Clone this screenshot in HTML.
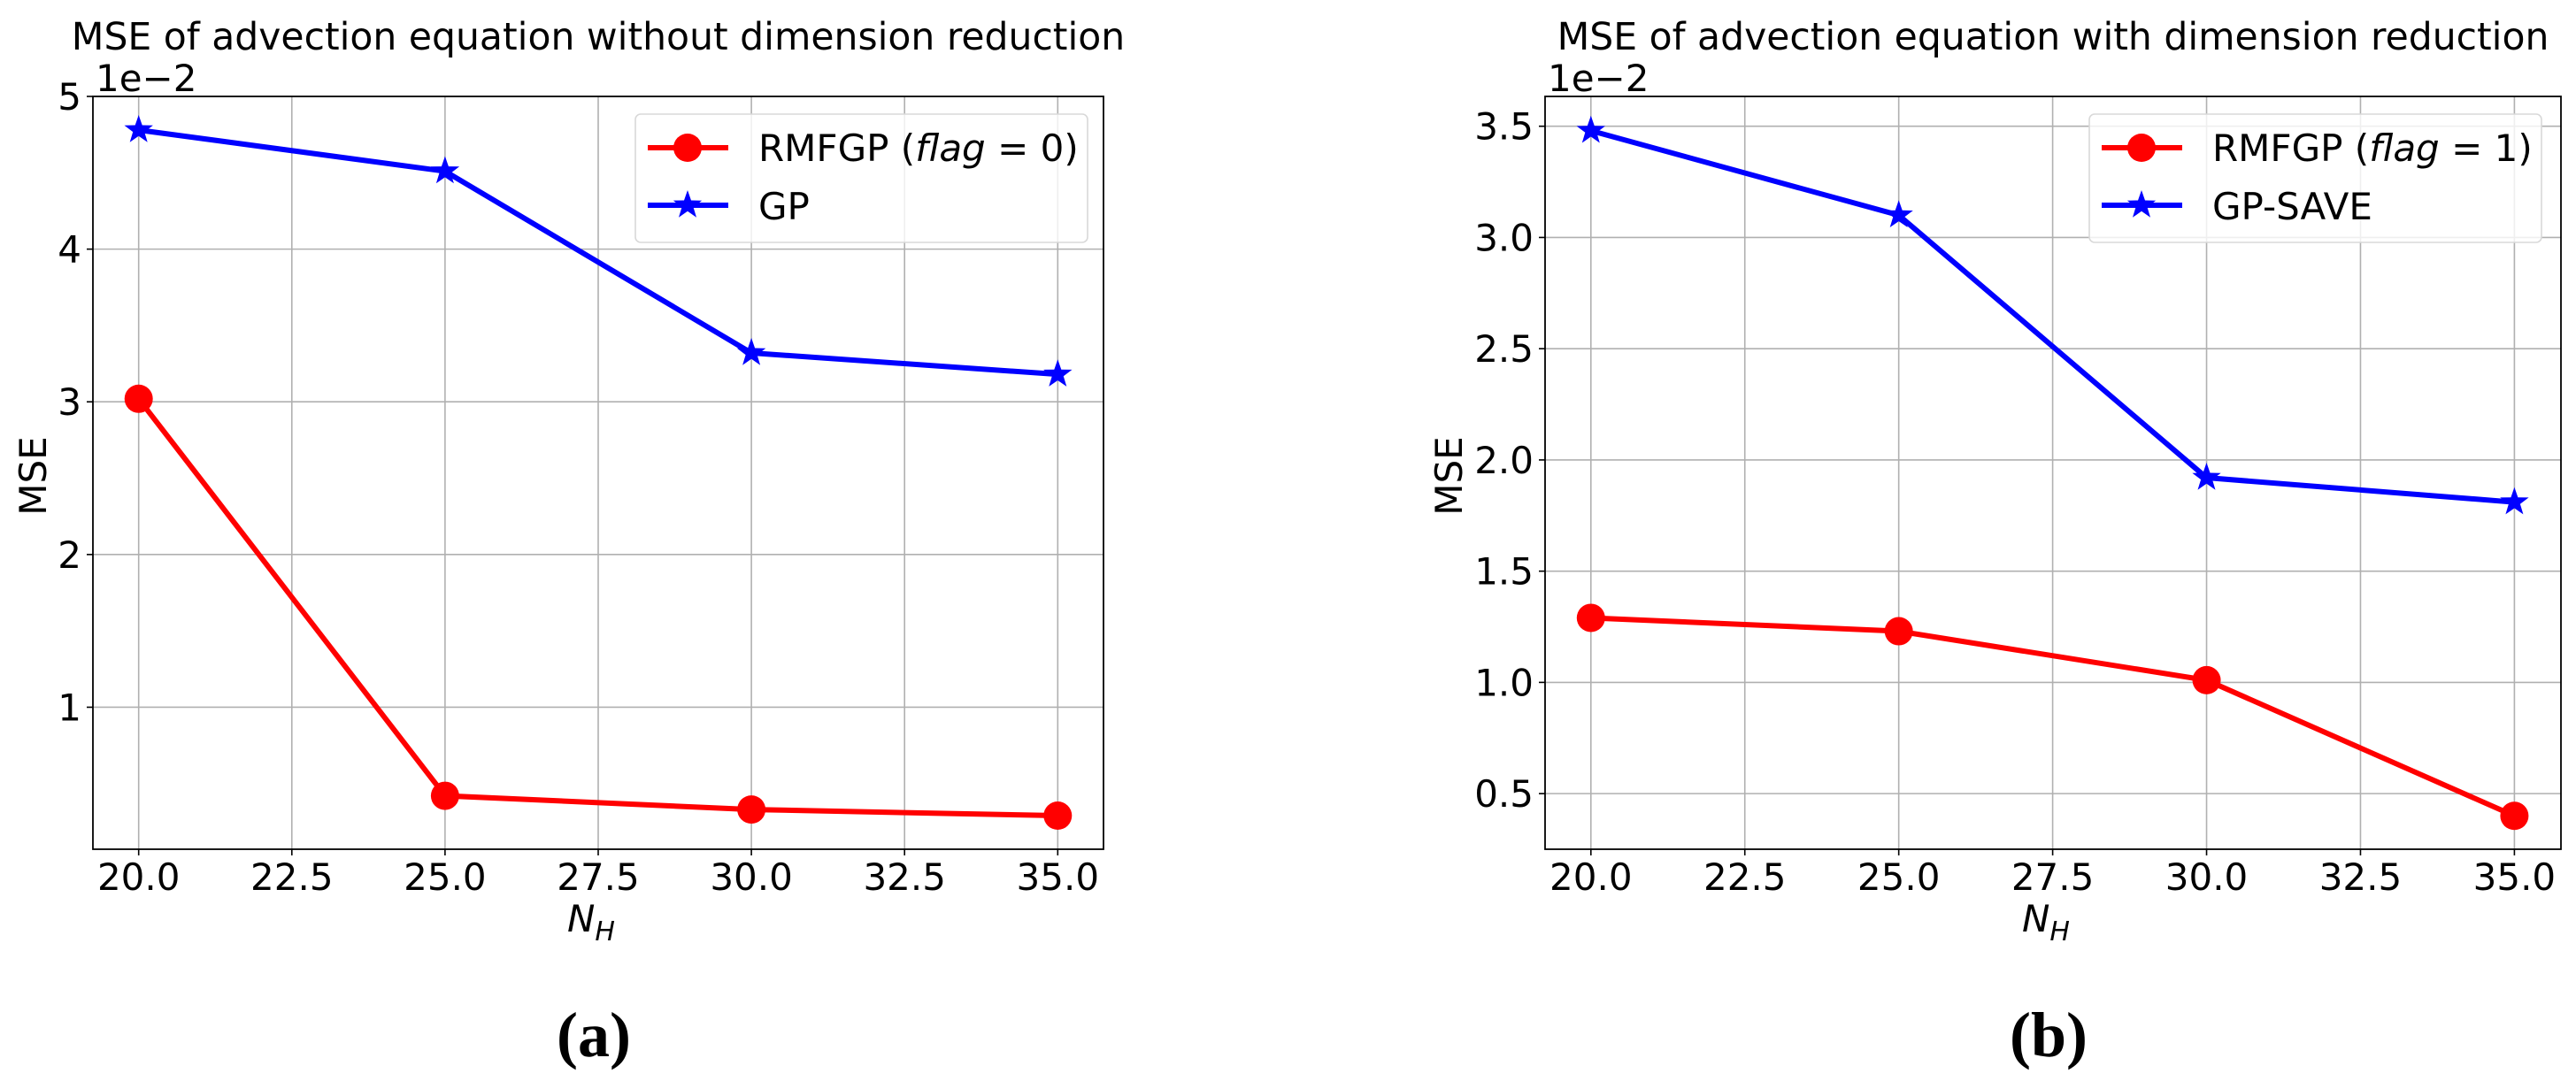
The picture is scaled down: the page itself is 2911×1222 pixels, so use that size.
<!DOCTYPE html>
<html><head><meta charset="utf-8"><style>
html,body{margin:0;padding:0;background:#fff;}
svg{display:block;font-family:"DejaVu Sans","Liberation Sans",sans-serif;}
</style></head><body>
<svg id="fig" width="2911" height="1222" viewBox="0 0 2911 1222" xmlns="http://www.w3.org/2000/svg"></svg>
<script>
// Data
const xValues = [20, 25, 30, 35];
const xTicks = [20.0, 22.5, 25.0, 27.5, 30.0, 32.5, 35.0];
const rmfgpA = [3.02, 0.42, 0.33, 0.29];
const gpA = [4.78, 4.51, 3.32, 3.18];
const yTicksA = [1, 2, 3, 4, 5];
const rmfgpB = [1.29, 1.23, 1.01, 0.40];
const gpSaveB = [3.48, 3.10, 1.92, 1.81];
const yTicksB = [0.5, 1.0, 1.5, 2.0, 2.5, 3.0, 3.5];

const NS = 'http://www.w3.org/2000/svg';
const svg = document.getElementById('fig');
function mk(tag, attrs, parent, text) {
  const e = document.createElementNS(NS, tag);
  for (const k in attrs) e.setAttribute(k, attrs[k]);
  if (text !== undefined) e.textContent = text;
  (parent || svg).appendChild(e);
  return e;
}
function starPts(cx, cy, R) {
  const r = R * 0.4; let p = [];
  for (let i = 0; i < 10; i++) {
    const a = -Math.PI / 2 + i * Math.PI / 5, rr = i % 2 ? r : R;
    p.push((cx + rr * Math.cos(a)).toFixed(1) + ',' + (cy + rr * Math.sin(a)).toFixed(1));
  }
  return p.join(' ');
}

function panel(cfg) {
  const g = mk('g', {});
  
  
  const L = cfg.left, R = cfg.right, T = 109, B = 960;
  const sx = v => cfg.x20 + (v - 20) * (cfg.x35 - cfg.x20) / 15;
  const sy = v => B - (v - cfg.ymin) * (B - T) / (cfg.ymax - cfg.ymin);
  xTicks.forEach(t => {
    const l = mk('line', {x1: sx(t), x2: sx(t), y1: T, y2: B, stroke: '#b0b0b0', 'stroke-width': 1.6}, g);
    
    
    const tk = mk('line', {x1: sx(t), x2: sx(t), y1: B, y2: B + 7, stroke: '#000', 'stroke-width': 1.6}, g);
    
    
    const tx = mk('text', {x: sx(t), y: 1006, 'font-size': 42, 'text-anchor': 'middle'}, g, t.toFixed(1));
    
    
  });
  cfg.yTicks.forEach(t => {
    const l = mk('line', {x1: L, x2: R, y1: sy(t), y2: sy(t), stroke: '#b0b0b0', 'stroke-width': 1.6}, g);
    
    
    const tk = mk('line', {x1: L - 7, x2: L, y1: sy(t), y2: sy(t), stroke: '#000', 'stroke-width': 1.6}, g);
    
    
    const tx = mk('text', {x: L - 13, y: sy(t) + 15, 'font-size': 42, 'text-anchor': 'end'}, g, cfg.yFmt(t));
    
    
  });
  function series(vals, color, marker, nm) {
    const pts = xValues.map((x, i) => sx(x) + ',' + sy(vals[i])).join(' ');
    const pl = mk('polyline', {points: pts, fill: 'none', stroke: color, 'stroke-width': 6, 'stroke-linejoin': 'round'}, g);
    
    
    xValues.forEach((x, i) => {
      let m;
      if (marker === 'o') m = mk('circle', {cx: sx(x), cy: sy(vals[i]), r: 16, fill: color}, g);
      else m = mk('polygon', {points: starPts(sx(x), sy(vals[i]), 17), fill: color}, g);
      
      
    });
  }
  series(cfg.red, '#ff0000', 'o', 'rmfgp');
  series(cfg.blue, '#0000ff', '*', cfg.blueName.toLowerCase());
  const fr = mk('rect', {x: L, y: T, width: R - L, height: B - T, fill: 'none', stroke: '#000', 'stroke-width': 1.8}, g);
  
  
  const lg = mk('g', {}, g);
  
  
  const lx = cfg.legX, lw = cfg.legW;
  mk('rect', {x: lx, y: 129, width: lw, height: 145, rx: 6, fill: 'rgba(255,255,255,0.8)', stroke: '#d8d8d8', 'stroke-width': 1.6}, lg);
  const e1 = mk('g', {}, lg);
  
  
  mk('line', {x1: lx + 14, x2: lx + 105, y1: 167, y2: 167, stroke: '#ff0000', 'stroke-width': 6}, e1);
  mk('circle', {cx: lx + 59, cy: 167, r: 16, fill: '#ff0000'}, e1);
  const t1 = mk('text', {x: lx + 139, y: 182, 'font-size': 42}, e1);
  t1.innerHTML = 'RMFGP (<tspan font-style="italic">flag</tspan> = ' + cfg.flag + ')';
  const e2 = mk('g', {}, lg);
  
  
  mk('line', {x1: lx + 14, x2: lx + 105, y1: 232, y2: 232, stroke: '#0000ff', 'stroke-width': 6}, e2);
  mk('polygon', {points: starPts(lx + 59, 232, 17), fill: '#0000ff'}, e2);
  mk('text', {x: lx + 139, y: 248, 'font-size': 42}, e2, cfg.blueName);
  const cx = (L + R) / 2;
  const ti = mk('text', {x: cx, y: 56, 'font-size': 42.5, 'text-anchor': 'middle'}, g, cfg.title);
  
  
  const off = mk('text', {x: L + 3, y: 103, 'font-size': 42}, g, '1e\u22122');
  
  
  const yl = mk('text', {x: cfg.ylabX, y: 538, 'font-size': 42, 'text-anchor': 'middle', transform: 'rotate(-90 ' + cfg.ylabX + ' 538)'}, g, 'MSE');
  
  
  const xl = mk('text', {x: cx - 8, y: 1053, 'font-size': 42, 'font-style': 'italic', 'text-anchor': 'middle'}, g);
  xl.innerHTML = 'N<tspan font-size="30" dy="10">H</tspan>';
  
  
  const cap = mk('text', {x: cx - 5, y: 1194, 'font-size': 72, 'font-weight': 'bold', 'font-family': '"Liberation Serif",serif', 'text-anchor': 'middle'}, g, cfg.cap);
  
  
}

panel({name: 'panel-a', left: 105, right: 1247, x20: 156.7, x35: 1195.3, ymin: 0.07, ymax: 5,
  yTicks: yTicksA, yFmt: t => String(t), red: rmfgpA, blue: gpA, blueName: 'GP', flag: 0,
  legX: 718, legW: 511, title: 'MSE of advection equation without dimension reduction', ylabX: 52, cap: '(a)'});
panel({name: 'panel-b', left: 1746, right: 2894, x20: 1797.8, x35: 2841.4, ymin: 0.25, ymax: 3.634,
  yTicks: yTicksB, yFmt: t => t.toFixed(1), red: rmfgpB, blue: gpSaveB, blueName: 'GP-SAVE', flag: 1,
  legX: 2361, legW: 511, title: 'MSE of advection equation with dimension reduction', ylabX: 1652, cap: '(b)'});
</script>
</body></html>
